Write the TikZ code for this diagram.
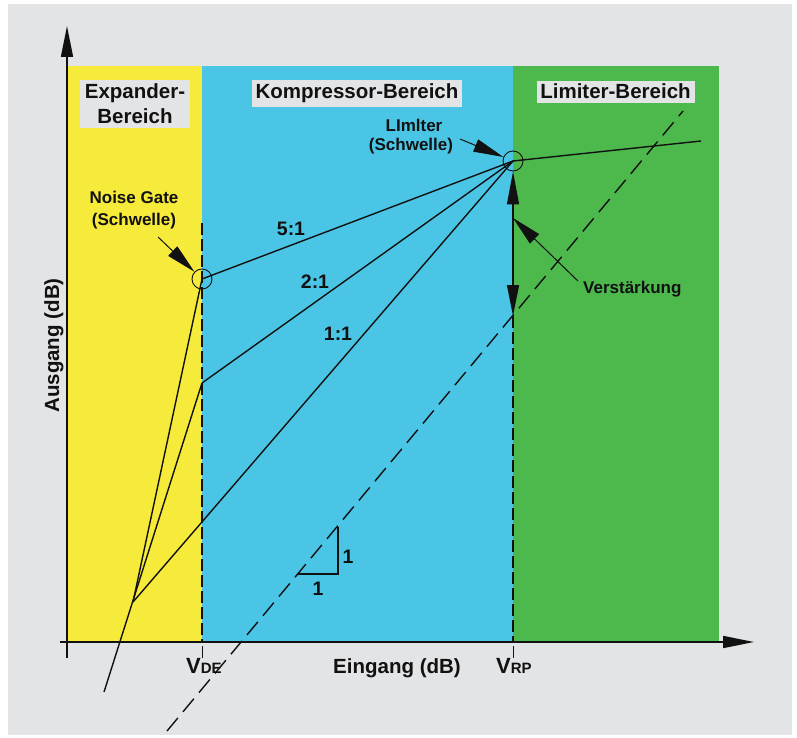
\documentclass[tikz,border=0pt]{standalone}
\usepackage{fontspec}
\setmainfont{Liberation Sans}
\usetikzlibrary{arrows.meta}
\definecolor{bg}{HTML}{E3E4E6}
\definecolor{yel}{HTML}{F6EB3B}
\definecolor{blu}{HTML}{4BC5E5}
\definecolor{grn}{HTML}{4DB84C}
\definecolor{ink}{HTML}{111111}
\begin{document}
\begin{tikzpicture}[x=1pt,y=-1pt,
  lbl/.style={font=\bfseries\fontsize{17}{19}\selectfont, text=ink, inner sep=0pt},
  biglbl/.style={font=\bfseries\fontsize{20.5}{23}\selectfont, text=ink, inner sep=0pt},
  ratio/.style={font=\bfseries\fontsize{19.5}{22}\selectfont, text=ink, inner sep=0pt},
  labbox/.style={fill=bg, draw=none},
  curve/.style={line width=1.4pt, draw=ink},
  axis/.style={line width=1.6pt, draw=ink, -{Triangle[length=31pt,width=12pt]}},
  dashv/.style={line width=1.4pt, draw=ink, dash pattern=on 12pt off 4pt},
  dashd/.style={line width=1.4pt, draw=ink, dash pattern=on 17pt off 8pt},
  tick/.style={line width=0.8pt, draw=ink},
  ring/.style={circle, draw=ink, line width=0.9pt, minimum size=20pt, inner sep=0pt},
  ptr/.style={line width=1pt, draw=ink, -{Triangle[length=30pt,width=13pt]}},
  dbl/.style={line width=1.4pt, draw=ink, {Triangle[length=33pt,width=12pt]}-{Triangle[length=31pt,width=12pt]}}
]
% canvas
\useasboundingbox (0,0) rectangle (797,738);
\fill[white] (0,0) rectangle (797,738);
\fill[bg] (8,4) rectangle (792,735);

% regions
\fill[yel] (67,66) rectangle (202,642);
\fill[blu] (202,66) rectangle (513,642);
\fill[grn] (513,66) rectangle (719,642);

% region label boxes
\fill[labbox] (80,80) rectangle (190,128);
\fill[labbox] (252,80) rectangle (462,107);
\fill[labbox] (537,81) rectangle (695,103);
\node[biglbl, anchor=base] (exp1) at (135,99) {Expander-};
\node[biglbl, anchor=base] (exp2) at (135,124) {Bereich};
\node[biglbl, anchor=base] (komp) at (357,99) {Kompressor-Bereich};
\node[biglbl, anchor=base] (limb) at (615.5,99) {Limiter-Bereich};

% key points
\coordinate (NG) at (202,279);
\coordinate (LM) at (513,161);
\coordinate (K2) at (202,383);
\coordinate (J) at (133,602);
\coordinate (EX) at (104,692);
\coordinate (LE) at (701,141);
\coordinate (DEtop) at (202,223);
\coordinate (DEax) at (202,642);
\coordinate (RPax) at (513,642);
\coordinate (Vdown) at (513,316);
\coordinate (Vtip) at (513,218);
\coordinate (D1) at (167,731);
\coordinate (D2) at (683,111);
\coordinate (T1) at (298,574);
\coordinate (T2) at (338,574);
\coordinate (T3) at (338,527);

% axes
\coordinate (Yb) at (67,658);
\coordinate (Yt) at (67,26);
\coordinate (Xl) at (60,642);
\coordinate (Xr) at (754,642);
\draw[axis] (Yb) -- (Yt);
\draw[axis] (Xl) -- (Xr);

% dashed verticals and ticks
\draw[dashv] (DEtop) -- (DEax);
\draw[dashv] (Vdown) -- (RPax);
\draw[tick] (202,646) -- (202,658);
\draw[tick] (513,646) -- (513,658);

% reference 1:1 dashed diagonal
\draw[dashd] (D1) -- (D2);
\draw[curve] (T1) -- (T2) -- (T3);
\node[ratio, anchor=base] (one1) at (318,595) {1};
\node[ratio, anchor=base] (one2) at (348,563) {1};

% characteristic curves
\draw[curve] (NG) -- (J);
\draw[curve] (K2) -- (EX);
\draw[curve] (J) -- (LM);
\draw[curve] (NG) -- (LM);
\draw[curve] (K2) -- (LM);
\draw[curve] (LM) -- (LE);

% circles
\node[ring] (ngc) at (NG) {};
\node[ring] (lmc) at (LM) {};

% gain double arrow
\draw[dbl] (lmc.south) -- (Vdown);

% ratio labels
\node[ratio, anchor=base] (r5) at (291,235) {5:1};
\node[ratio, anchor=base] (r2) at (315,288) {2:1};
\node[ratio, anchor=base] (r1) at (338,340) {1:1};

% noise gate label and pointer
\node[lbl, anchor=base] (ng1) at (134,204) {Noise Gate};
\node[lbl, anchor=base] (ng2) at (134,225) {(Schwelle)};
\coordinate (ngp) at (158,237);
\draw[ptr] (ngp) -- (ngc);

% limiter label and pointer
\node[lbl, anchor=base] (lm1) at (414,132) {LImlter};
\node[lbl, anchor=base] (lm2) at (411,151) {(Schwelle)};
\coordinate (lmp) at (460,139);
\draw[ptr] (lmp) -- (lmc);

% Verstaerkung label and pointer
\node[lbl, anchor=base west] (vs) at (583,293) {Verstärkung};
\coordinate (vsp) at (578,281);
\draw[ptr] (vsp) -- (Vtip);

% axis labels
\node[biglbl, anchor=base] (ein) at (397,673) {Eingang (dB)};
\node[biglbl, anchor=base, rotate=90] (aus) at (59,345.5) {Ausgang (dB)};
\node[text=ink, inner sep=0pt, anchor=base west, font=\bfseries] (vde) at (186,673) {\fontsize{22}{24}\selectfont V\fontsize{15}{17}\selectfont DE};
\node[text=ink, inner sep=0pt, anchor=base west, font=\bfseries] (vrp) at (496,673) {\fontsize{22}{24}\selectfont V\fontsize{15}{17}\selectfont RP};
\end{tikzpicture}
\end{document}
